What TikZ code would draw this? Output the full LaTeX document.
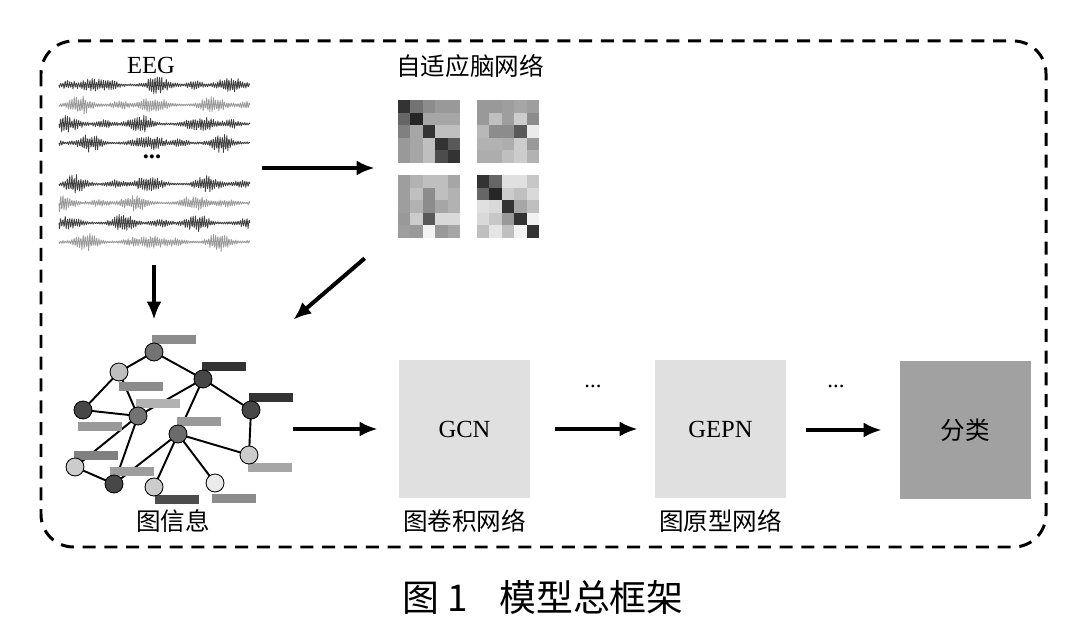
\documentclass[tikz,border=0pt]{standalone}
\usepackage{fontspec}
\setmainfont{Liberation Serif}
\newfontfamily\cjk{Noto Sans CJK SC}
\usetikzlibrary{arrows.meta, positioning}

% one 5x5 matrix of grey cells, #1/#2 = top left corner, #3 = darkness values
\newcommand{\adjmat}[3]{%
  \foreach \v [count=\k from 0] in {#3} {
    \pgfmathtruncatemacro{\rr}{int(\k/5)}
    \pgfmathtruncatemacro{\cc}{mod(\k,5)}
    \fill[black!\v] ({#1+\cc*12.4},{#2+\rr*12.6}) rectangle ++(12.5,12.7);
  }
}

\begin{document}
\begin{tikzpicture}[x=0.02cm, y=-0.02cm,
    bigarrow/.style={-{Latex[length=0.36cm,width=0.3cm]}, line width=0.08cm},
    lbl/.style={font=\fontsize{14}{16}\selectfont, inner sep=0pt},
    cjklbl/.style={font=\fontsize{14}{16}\selectfont\cjk, inner sep=0pt},
    stage/.style={minimum width=2.62cm, minimum height=2.76cm, inner sep=0pt},
    gnode/.style={circle, draw, line width=0.5pt, minimum size=0.36cm, inner sep=0pt},
    eegline/.style={line width=0.45pt, line join=round}]
    \useasboundingbox (0,0) rectangle (1069,617);
    \pgfmathsetseed{17}

    % outer frame
    \draw[line width=1.7pt, dash pattern=on 7.4pt off 5pt, rounded corners=0.65cm] (41,41) rectangle (1046,547);

    % EEG
    \node[lbl] (eeglbl) at (151,65) {EEG};
    \node[minimum width=3.82cm, minimum height=3.54cm, inner sep=0pt] (eegblock) at (154.5,163) {};
    \foreach \ry/\col/\pa/\pb in {85/black!75/0/50, 105/black!40/30/10, 124/black!75/60/80, 143/black!75/15/120,
                                  184/black!75/45/30, 203/black!40/75/100, 223/black!75/90/20, 242/black!40/20/140}
        \draw[eegline, \col] plot[domain=0:85, samples=426]
            ({59+\x*2.245}, {\ry + (0.9 + 4.2*abs(sin(\x*6+\pa))^6 + 2.4*abs(sin(\x*9.5+\pb))^4)*(0.55+0.9*rnd)*sin(360*frac(\x))});
    \node[font=\fontsize{14}{16}\selectfont\bfseries, inner sep=0pt] (eegdots) at (152,157) {...};

    % adaptive brain network
    \node[cjklbl] (netlbl) at (470,66) {自适应脑网络};
    \node[minimum width=2.78cm, minimum height=2.8cm, inner sep=0pt] (matblock) at (468.5,168) {};
    \adjmat{398}{100}{80,55,45,40,40, 60,85,35,35,35, 50,35,80,25,25, 40,35,25,80,65, 40,35,25,70,80}
    \adjmat{477}{100}{40,40,38,35,38, 40,25,38,20,45, 28,45,45,65,8, 30,30,32,20,40, 32,32,25,20,30}
    \adjmat{398}{175}{38,30,25,25,35, 38,25,45,25,30, 38,30,45,35,30, 40,20,65,15,15, 38,40,5,40,35}
    \adjmat{477}{175}{80,60,12,12,22, 60,85,20,25,15, 12,15,80,35,25, 15,22,40,80,5, 25,10,25,5,80}

    % graph information
    \node[minimum width=4.56cm, minimum height=3.44cm, inner sep=0pt] (graphblock) at (179,419) {};
    \foreach \n/\x/\y/\c in {v1/154/352/55, v2/119/372/25, v3/203/379/72, v4/83/410/72, v5/138/416/55, v6/251/410/72,
                             v7/178/434/58, v8/75/467/20, v9/249/455/20, v10/114/484/72, v11/154/487/20, v12/215/483/8}
        \coordinate (\n) at (\x,\y);
    \foreach \a/\b in {v1/v2, v1/v3, v2/v4, v2/v5, v4/v5, v3/v5, v3/v7, v3/v6, v6/v9, v7/v9,
                       v7/v11, v7/v12, v7/v10, v5/v8, v5/v10, v8/v10}
        \draw[line width=1.1pt] (\a) -- (\b);
    \foreach \x/\y/\c in {152/335/45, 202/362/80, 119/382/45, 136/399/30, 249/393/80, 78/422/40,
                          177/417/40, 74/451/50, 110/467/38, 248/463/35, 155/495/70, 212/494/45}
        \fill[black!\c] (\x,\y) rectangle ++(44,9);
    \foreach \n/\x/\y/\c in {v1/154/352/55, v2/119/372/25, v3/203/379/72, v4/83/410/72, v5/138/416/55, v6/251/410/72,
                             v7/178/434/58, v8/75/467/20, v9/249/455/20, v10/114/484/72, v11/154/487/20, v12/215/483/8}
        \node[gnode, fill=black!\c] (\n) at (\x,\y) {};
    \node[cjklbl] (graphlbl) at (173,521) {图信息};

    % stages
    \node[stage, fill=black!12, lbl] (gcn) at (464.5,429) {GCN};
    \node[stage, fill=black!12, lbl] (gepn) at (720.5,429) {GEPN};
    \node[stage, fill=black!37, cjklbl] (cls) at (965.5,430) {分类};
    \node[cjklbl] (gcnlbl) at (464.5,521) {图卷积网络};
    \node[cjklbl] (gepnlbl) at (720.5,521) {图原型网络};
    \node[font=\fontsize{13}{15}\selectfont, inner sep=0pt] (dots1) at (593,386) {...};
    \node[font=\fontsize{13}{15}\selectfont, inner sep=0pt] (dots2) at (836,386) {...};

    % arrows
    \draw[bigarrow, shorten <=0.24cm, shorten >=0.48cm] (eegblock.east |- matblock.west) -- (matblock.west);
    \draw[bigarrow, shorten <=0.26cm, shorten >=0.26cm] (eegblock.south -| v1) -- (graphblock.north -| v1);
    \draw[bigarrow] ([xshift=-0.68cm, yshift=-0.4cm]matblock.south west) -- ([yshift=0.26cm]graphblock.north east);
    \draw[bigarrow, shorten >=0.42cm] (graphblock.east |- gcn) -- (gcn);
    \draw[bigarrow, shorten <=0.5cm, shorten >=0.34cm] (gcn) -- (gepn);
    \draw[bigarrow, shorten <=0.4cm, shorten >=0.36cm] (gepn.east |- cls.west) -- (cls.west);

    % caption
    \node[font=\fontsize{21}{24}\selectfont\cjk, inner sep=0pt] (caption) at (543,597) {图 1\hspace{0.85em}模型总框架};
\end{tikzpicture}
\end{document}
